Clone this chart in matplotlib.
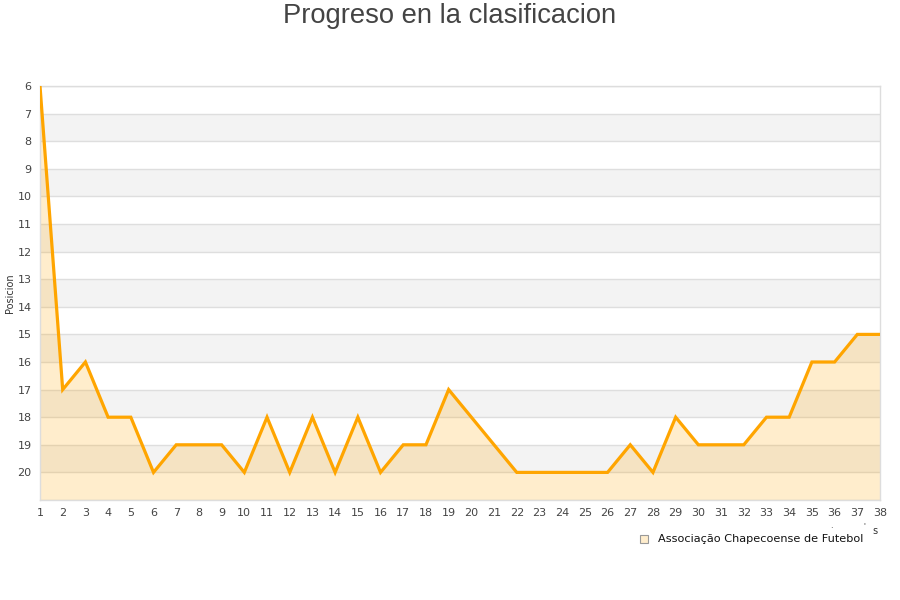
import matplotlib
matplotlib.use("Agg")
import matplotlib.pyplot as plt
from matplotlib.patches import Rectangle

jornadas = list(range(1, 39))
posiciones = [6, 17, 16, 18, 18, 20, 19, 19, 19, 20, 18, 20, 18, 20, 18, 20, 19, 19, 17, 18,
              19, 20, 20, 20, 20, 20, 19, 20, 18, 19, 19, 19, 18, 18, 16, 16, 15, 15]
y_ticks = list(range(6, 21))
equipo = "Associação Chapecoense de Futebol"
titulo = "Progreso en la clasificacion"

W, H = 900, 600
fig = plt.figure(figsize=(W / 100, H / 100), dpi=100)
ax = fig.add_axes([40 / W, 1 - 500 / H, 840 / W, 414 / H])

ax.set_xlim(1, 38)
ax.set_ylim(21, 6)

# alternating bands
for k in range(7, 21, 2):
    ax.axhspan(k, k + 1, color="#f3f3f3", zorder=0, lw=0)
for k in range(6, 22):
    ax.axhline(k, color="#dedede", lw=1, zorder=1)

ax.fill_between(jornadas, posiciones, 21, color="#FFA500", alpha=0.2, lw=0, zorder=2)
ax.plot(jornadas, posiciones, color="#FFA500", lw=2.3, zorder=3, solid_joinstyle="miter")

ax.set_xticks(jornadas)
ax.set_yticks(y_ticks)
ax.tick_params(length=0, labelsize=8, colors="#444444", pad=6)
for s in ax.spines.values():
    s.set_color("#dddddd")
    s.set_linewidth(1)

ax.set_ylabel("Posicion", fontsize=7, color="#333333")
ax.yaxis.set_label_coords(-25 / 840, 0.5)

fig.text(0.5, 1 - 16 / H, titulo, ha="center", va="center", fontsize=19.7,
         family="Liberation Sans", color="#444444")

# legend
fig.patches.append(Rectangle((640 / W, 1 - 543 / H), 8 / W, 8 / H, transform=fig.transFigure,
                             facecolor="#FFEDCC", edgecolor="#999999", lw=0.8))
fig.text(658 / W, 1 - 539 / H, equipo, ha="left", va="center", fontsize=8.1, color="#111111")
fig.text(875 / W, 1 - 531 / H, "s", ha="center", va="center", fontsize=7, color="#333333")
fig.text(831 / W, 1 - 525 / H, ".", ha="center", va="center", fontsize=6, color="#333333")
fig.text(864 / W, 1 - 525 / H, "'", ha="center", va="center", fontsize=5, color="#333333")

fig.savefig("out.png", dpi=100)
